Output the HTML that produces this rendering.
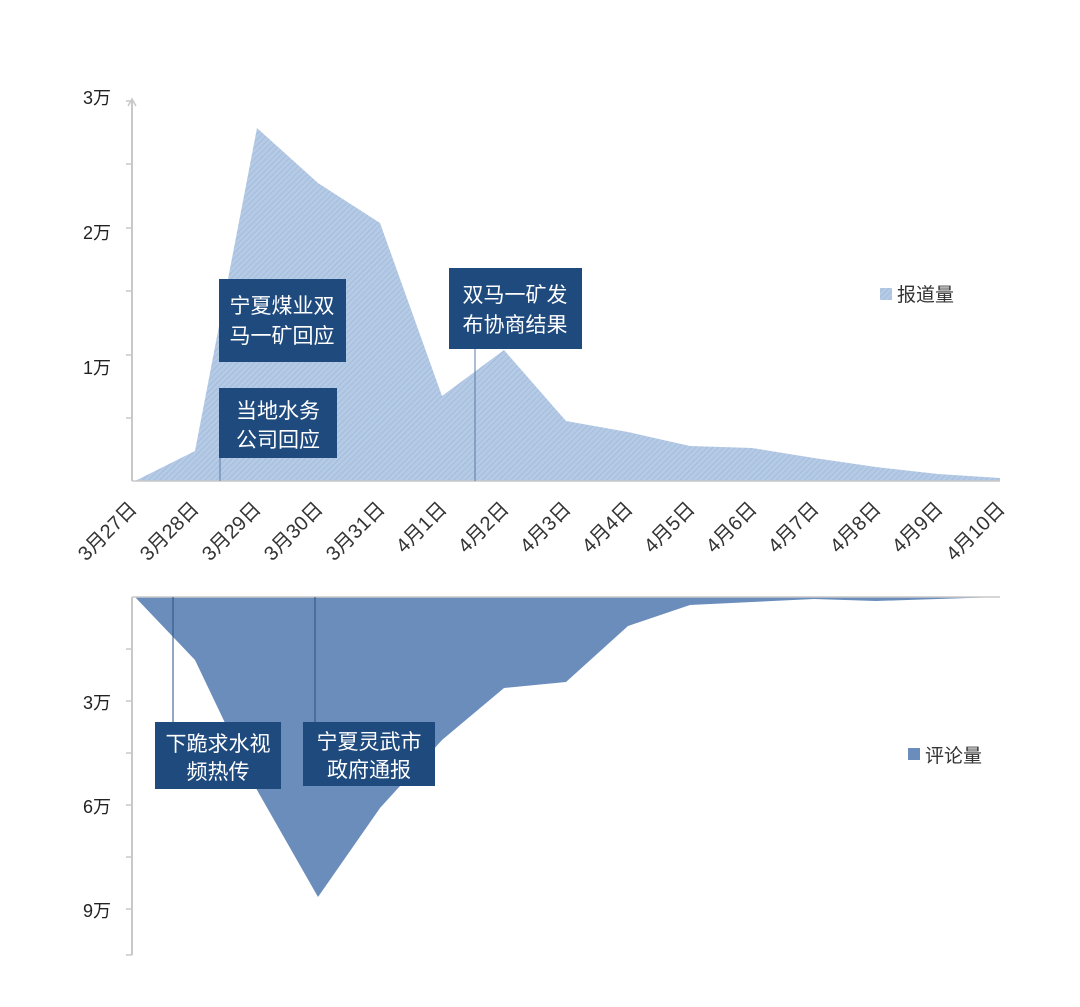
<!DOCTYPE html>
<html><head><meta charset="utf-8"><style>
html,body{margin:0;padding:0;background:#fff;}
</style></head><body>
<svg width="1080" height="1002" xmlns="http://www.w3.org/2000/svg" font-family="Liberation Sans, Noto Sans CJK SC, sans-serif">
<defs>
<pattern id="h" width="4" height="4" patternUnits="userSpaceOnUse" patternTransform="rotate(45)">
<rect width="4" height="4" fill="#b5cae5"/><line x1="0" y1="0" x2="0" y2="4" stroke="#9fb8da" stroke-width="1.5"/>
</pattern>
</defs>
<rect width="1080" height="1002" fill="#fff"/>
<polygon fill="url(#h)" points="135,481 195,451 257,128 318,183 380,223 442,396 504,350 566,421 628,432 690,446 752,448 814,458 876,467 938,474 1000,478 1000,481"/>
<line x1="132" y1="100" x2="132" y2="481" stroke="#c8c8c8" stroke-width="2"/>
<polyline points="128,106 132,99 136,106" fill="none" stroke="#c8c8c8" stroke-width="1.5"/>
<g stroke="#c8c8c8" stroke-width="1.5">
<line x1="126" y1="101" x2="132" y2="101"/><line x1="126" y1="164" x2="132" y2="164"/><line x1="126" y1="228" x2="132" y2="228"/><line x1="126" y1="291" x2="132" y2="291"/><line x1="126" y1="355" x2="132" y2="355"/><line x1="126" y1="418" x2="132" y2="418"/>
</g>
<line x1="132" y1="481" x2="1000" y2="481" stroke="#c8c8c8" stroke-width="1.5"/>
<g font-size="18" fill="#222">
<text x="83" y="104">3万</text><text x="83" y="239">2万</text><text x="83" y="374">1万</text>
</g>
<g font-size="20" fill="#333" text-anchor="end">
<text transform="translate(138,510) rotate(-45)">3月27日</text>
<text transform="translate(200,510) rotate(-45)">3月28日</text>
<text transform="translate(262,510) rotate(-45)">3月29日</text>
<text transform="translate(324,510) rotate(-45)">3月30日</text>
<text transform="translate(386,510) rotate(-45)">3月31日</text>
<text transform="translate(448,510) rotate(-45)">4月1日</text>
<text transform="translate(510,510) rotate(-45)">4月2日</text>
<text transform="translate(572,510) rotate(-45)">4月3日</text>
<text transform="translate(634,510) rotate(-45)">4月4日</text>
<text transform="translate(696,510) rotate(-45)">4月5日</text>
<text transform="translate(758,510) rotate(-45)">4月6日</text>
<text transform="translate(820,510) rotate(-45)">4月7日</text>
<text transform="translate(882,510) rotate(-45)">4月8日</text>
<text transform="translate(944,510) rotate(-45)">4月9日</text>
<text transform="translate(1006,510) rotate(-45)">4月10日</text>
</g>
<line x1="220" y1="458" x2="220" y2="481" stroke="#5a7aa5" stroke-width="1"/>
<line x1="475" y1="349" x2="475" y2="481" stroke="#5a7aa5" stroke-width="1"/>
<polygon fill="#6a8dbc" points="135,597 195,660 257,790 318,897 380,808 442,740 504,688 566,682 628,626 690,605 752,602 814,599 876,601 938,599 1000,597"/>
<line x1="132" y1="597" x2="1000" y2="597" stroke="#c8c8c8" stroke-width="1.5"/>
<line x1="132" y1="597" x2="132" y2="955" stroke="#c8c8c8" stroke-width="2"/>
<g stroke="#c8c8c8" stroke-width="1.5">
<line x1="126" y1="649" x2="132" y2="649"/><line x1="126" y1="701" x2="132" y2="701"/><line x1="126" y1="753" x2="132" y2="753"/><line x1="126" y1="805" x2="132" y2="805"/><line x1="126" y1="857" x2="132" y2="857"/><line x1="126" y1="909" x2="132" y2="909"/><line x1="126" y1="955" x2="132" y2="955"/>
</g>
<g font-size="18" fill="#222">
<text x="83" y="709">3万</text><text x="83" y="813">6万</text><text x="83" y="917">9万</text>
</g>
<line x1="173" y1="597" x2="173" y2="722" stroke="#2a4f80" stroke-width="1"/>
<line x1="315" y1="597" x2="315" y2="722" stroke="#2a4f80" stroke-width="1"/>
<g fill="#1f4a7e">
<rect x="219" y="279" width="127" height="83"/>
<rect x="219" y="388" width="118" height="70"/>
<rect x="449" y="268" width="133" height="81"/>
<rect x="155" y="722" width="126" height="67"/>
<rect x="303" y="722" width="132" height="64"/>
</g>
<g font-size="21" fill="#fff" text-anchor="middle">
<text x="282" y="313">宁夏煤业双</text><text x="282" y="343">马一矿回应</text>
<text x="278" y="418">当地水务</text><text x="278" y="447">公司回应</text>
<text x="515" y="302">双马一矿发</text><text x="515" y="332">布协商结果</text>
<text x="218" y="751">下跪求水视</text><text x="218" y="779">频热传</text>
<text x="369" y="749">宁夏灵武市</text><text x="369" y="777">政府通报</text>
</g>
<rect x="880" y="288" width="12" height="12" fill="url(#h)"/>
<text x="897" y="301" font-size="19" fill="#333">报道量</text>
<rect x="908" y="748" width="12" height="12" fill="#6a8dbc"/>
<text x="925" y="762" font-size="19" fill="#333">评论量</text>
</svg>
</body></html>
